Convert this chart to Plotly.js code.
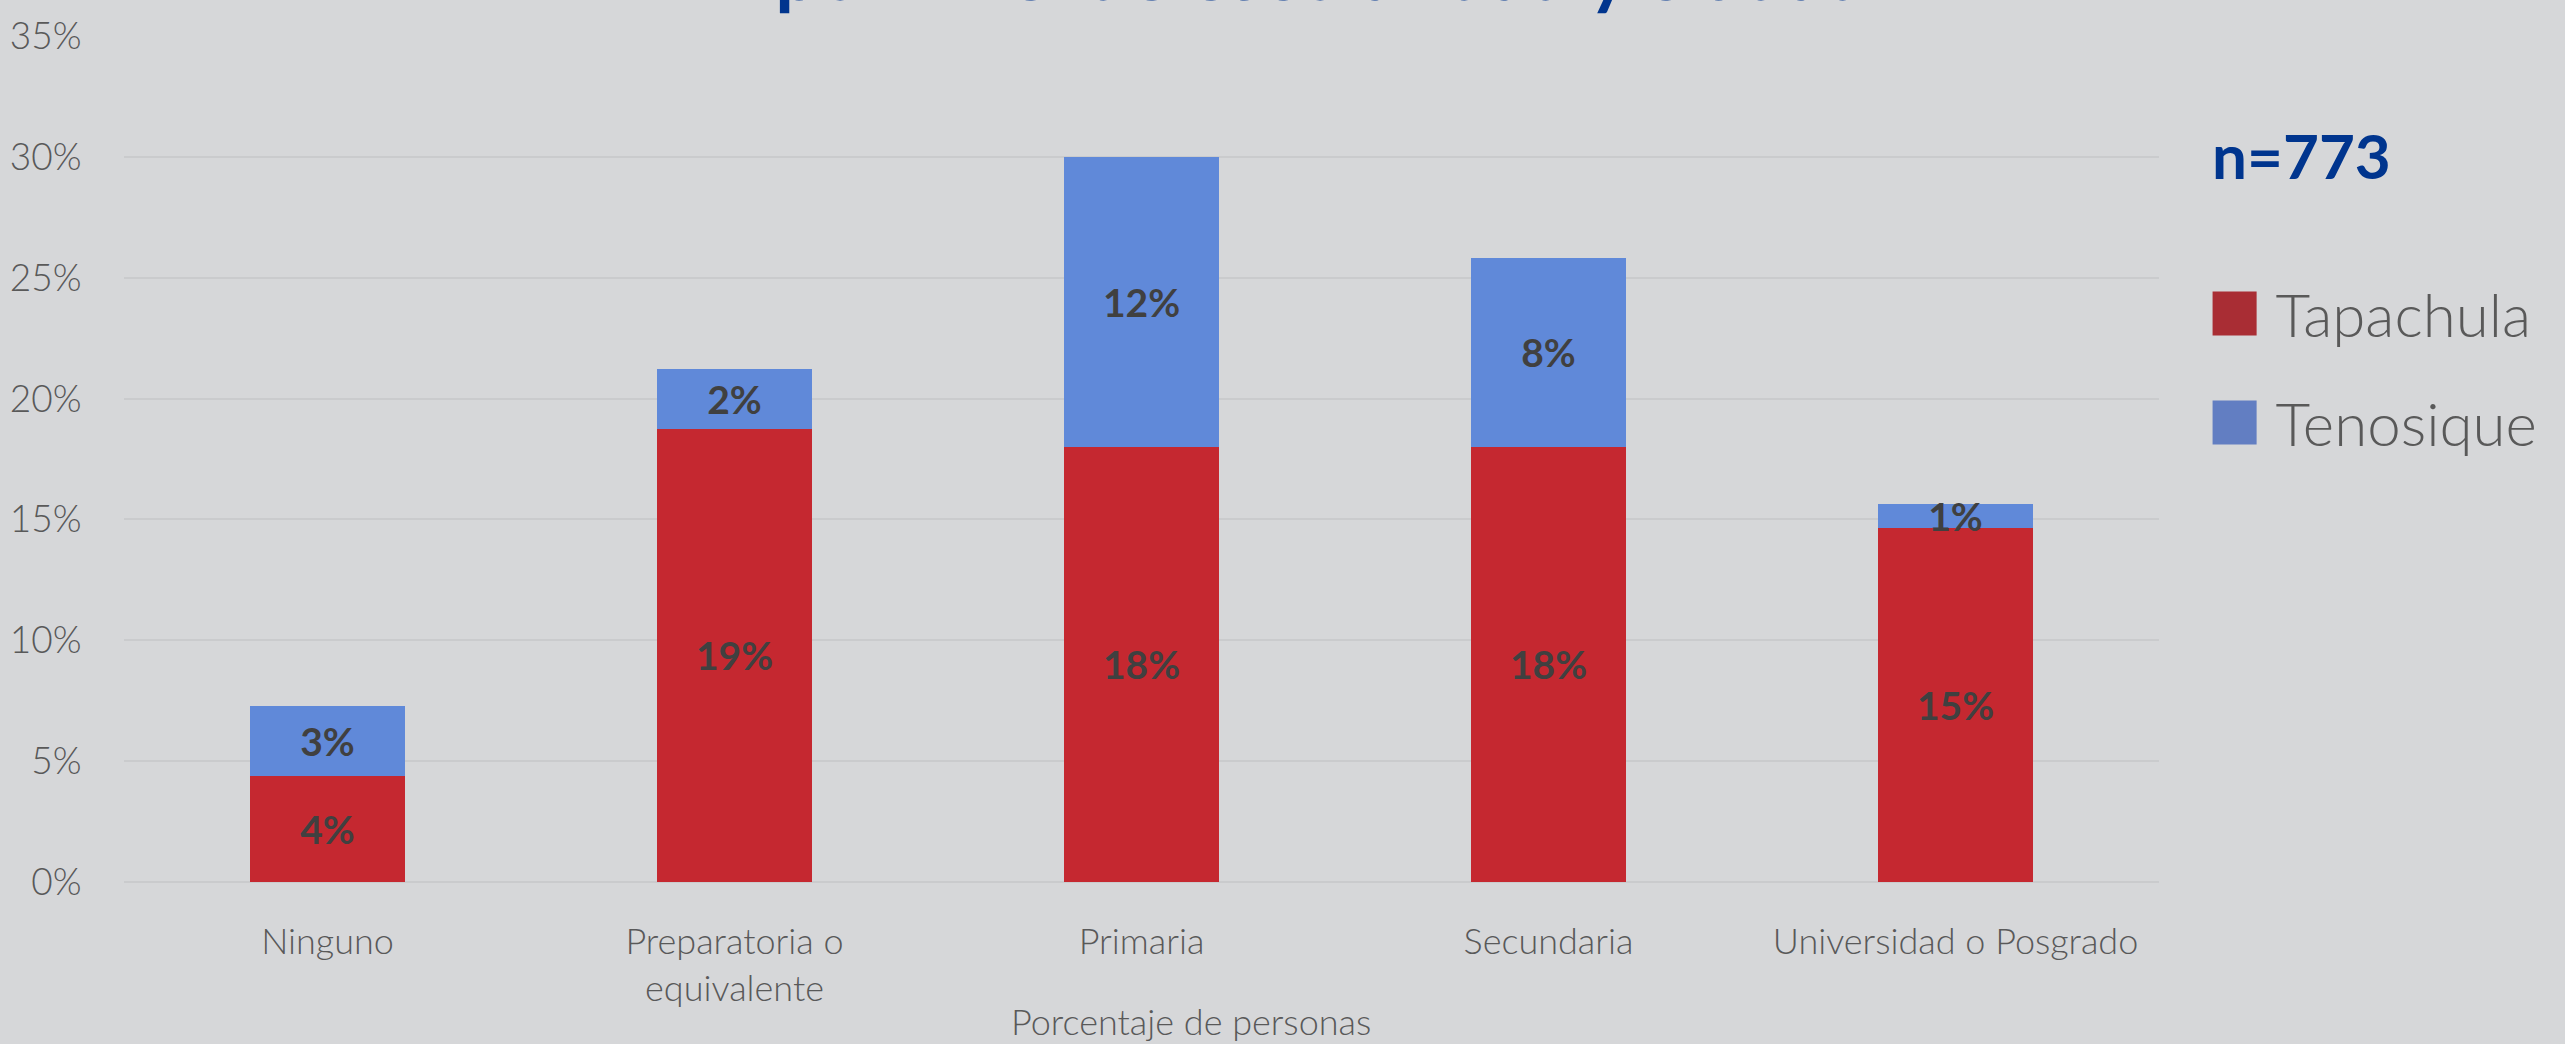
<!DOCTYPE html>
<html>
<head>
<meta charset="utf-8">
<script src="https://cdn.plot.ly/plotly-3.0.1.min.js"></script>
<style>
  html, body { margin: 0; padding: 0; background: #D6D7D9; overflow: hidden; }
  #chart { width: 2565px; height: 1044px; }
</style>
</head>
<body>
<div id="chart"></div>
<script>
// ---- data ----
const categories = ["Ninguno", "Preparatoria o<br>equivalente", "Primaria", "Secundaria", "Universidad o Posgrado"];
const tapachula = [4.37, 18.75, 18.01, 18.0, 14.63];
const tenosique = [2.93, 2.47, 12.0, 7.82, 1.0];
const seriesNames = ["Tapachula", "Tenosique"];
const yTickVals = [0, 5, 10, 15, 20, 25, 30, 35];
const yTickText = ["0%", "5%", "10%", "15%", "20%", "25%", "30%", "35%"];
const titleText = "por nivel de escolaridad y ciudad";
const xTitleText = "Porcentaje de personas";
const sampleNote = "n=773";

// ---- styles ----
const barColors = ["#C52830", "#6089D9"];
const legendColors = ["#A92D34", "#627EC2"];
const bg = "#D6D7D9";
const gridColor = "#CACBCD";
const textGray = "#595959";
const navy = "#00358E";
const font = "Lato, 'Open Sans', sans-serif";

const common = {
  type: "bar",
  x: categories,
  texttemplate: "%{y:.0f}%",
  textposition: "inside",
  insidetextanchor: "middle",
  constraintext: "none",
  textfont: { family: font, size: 39, color: "#404040", weight: 700 },
  hoverinfo: "skip"
};

const traces = [
  Object.assign({}, common, { name: seriesNames[0], y: tapachula, marker: { color: barColors[0] }, legendgroup: "a" }),
  Object.assign({}, common, { name: seriesNames[1], y: tenosique, marker: { color: barColors[1] }, legendgroup: "b" })
];

const layout = {
  width: 2565,
  height: 1044,
  paper_bgcolor: bg,
  plot_bgcolor: bg,
  barmode: "stack",
  bargap: 0.62,
  margin: { l: 124, r: 406, t: 36, b: 162 },
  font: { family: font, color: textGray },
  title: {
    text: titleText,
    font: { family: font, size: 76, color: navy, weight: 700 },
    xref: "container", x: 0.5154, xanchor: "center",
    yref: "paper", y: 1, yanchor: "bottom",
    pad: { b: 36 }
  },
  xaxis: {
    type: "category",
    tickfont: { family: font, size: 36, color: textGray, weight: 300 },
    ticks: "outside", ticklen: 28, tickcolor: "rgba(0,0,0,0)",
    showline: false, showgrid: false, zeroline: false
  },
  yaxis: {
    range: [0, 35],
    tickmode: "array",
    tickvals: yTickVals,
    ticktext: yTickText,
    tickfont: { family: font, size: 37, color: textGray, weight: 300 },
    ticks: "outside", ticklen: 34, tickcolor: "rgba(0,0,0,0)",
    showgrid: true, gridcolor: gridColor, gridwidth: 2,
    zeroline: true, zerolinecolor: gridColor, zerolinewidth: 2,
    showline: false
  },
  showlegend: true,
  legend: {
    x: 1.017, xanchor: "left",
    y: 0.6076, yanchor: "middle",
    bgcolor: "rgba(0,0,0,0)",
    font: { family: font, size: 60, color: textGray, weight: 300 },
    itemwidth: 72,
    tracegroupgap: 28,
    traceorder: "grouped"
  },
  annotations: [
    {
      text: sampleNote, showarrow: false,
      xref: "paper", x: 1.0251, xanchor: "left",
      yref: "paper", y: 0.8593, yanchor: "middle",
      font: { family: font, size: 62, color: navy, weight: 700 }
    },
    {
      text: xTitleText, showarrow: false,
      xref: "paper", x: 0.5243, xanchor: "center",
      yref: "paper", y: -0.164, yanchor: "middle",
      font: { family: font, size: 36, color: textGray, weight: 300 }
    }
  ]
};

Plotly.newPlot("chart", traces, layout, { staticPlot: true, displayModeBar: false }).then(function (gd) {
  // enlarge legend swatches and give them the legend shades
  const items = gd.querySelectorAll(".legend .traces");
  items.forEach(function (item, i) {
    const p = item.querySelector(".legendpoints path");
    if (p) {
      const t = p.getAttribute("transform") || "";
      p.setAttribute("transform", t + " scale(3.67)");
      p.style.fill = legendColors[i];
      p.style.stroke = "none";
    }
  });
});
</script>
</body>
</html>
